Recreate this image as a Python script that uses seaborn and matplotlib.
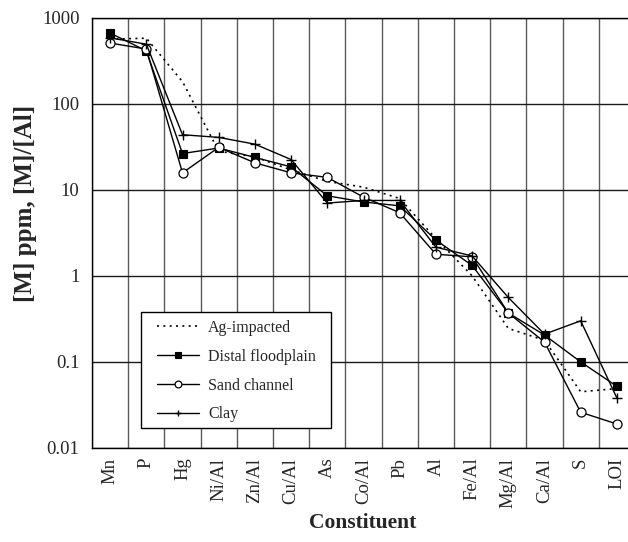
import numpy as np
import pandas as pd
import matplotlib
matplotlib.use("Agg")
import matplotlib.pyplot as plt
from matplotlib.patches import Rectangle
from matplotlib.ticker import FixedLocator, NullLocator
import seaborn as sns

# Constituents along the x axis
constituents = ["Mn", "P", "Hg", "Ni/Al", "Zn/Al", "Cu/Al", "As", "Co/Al",
                "Pb", "Al", "Fe/Al", "Mg/Al", "Ca/Al", "S", "LOI"]

# Concentrations ([M] ppm or [M]/[Al]) for each sediment type
ag_impacted = [560, 575, 180, 28, 24, 17, 12.5, 10.7, 7.9, 2.7, 1.0, 0.245, 0.178, 0.045, 0.049]
distal_floodplain = [660, 410, 26.3, 30.5, 23.7, 18.4, 8.5, 7.2, 6.5, 2.6, 1.32, 0.37, 0.205, 0.10, 0.052]
sand_channel = [505, 430, 15.7, 31, 20.5, 15.7, 13.9, 8.2, 5.4, 1.78, 1.66, 0.37, 0.17, 0.026, 0.019]
clay = [580, 490, 43.5, 40.5, 33.8, 22.4, 7.0, 7.5, 7.5, 2.15, 1.7, 0.56, 0.21, 0.30, 0.038]

y_ticks = [0.01, 0.1, 1, 10, 100, 1000]
y_tick_labels = ["0.01", "0.1", "1", "10", "100", "1000"]

sns.set_style("white")
plt.rcParams["font.family"] = ["Liberation Serif", "DejaVu Serif"]

fig = plt.figure(figsize=(6.28, 5.42), dpi=100)
ax = fig.add_axes([92 / 628, 1 - 448 / 542, 543 / 628, 430.5 / 542])

pos = np.arange(len(constituents))
series = [
    ("Ag-impacted", ag_impacted,
     dict(linestyle=(0, (1.2, 2.6)), linewidth=1.2, marker=None)),
    ("Distal floodplain", distal_floodplain,
     dict(linestyle="-", linewidth=1.0, marker="s", markersize=6,
          markerfacecolor="black", markeredgecolor="black", markeredgewidth=0.8)),
    ("Sand channel", sand_channel,
     dict(linestyle="-", linewidth=1.0, marker="o", markersize=6.5,
          markerfacecolor="white", markeredgecolor="black", markeredgewidth=0.9)),
    ("Clay", clay,
     dict(linestyle="-", linewidth=1.0, marker="+", markersize=6.5,
          markeredgecolor="black", markeredgewidth=1.0)),
]

for name, values, style in series:
    df = pd.DataFrame({"pos": pos, "value": values})
    sns.lineplot(data=df, x="pos", y="value", ax=ax, color="black",
                 sort=False, errorbar=None, label=name, zorder=3, **style)

ax.set_yscale("log")
ax.set_ylim(0.01, 1000)
ax.set_xlim(-0.5, len(constituents) - 0.5)

ax.yaxis.set_major_locator(FixedLocator(y_ticks))
ax.yaxis.set_minor_locator(NullLocator())
ax.set_yticklabels(y_tick_labels)

# Category labels at centres, tick marks and grid at category boundaries
ax.set_xticks(pos)
ax.set_xticklabels(constituents, rotation=90, ha="center", va="top")
ax.set_xticks(np.arange(-0.5, len(constituents)), minor=True)
ax.tick_params(axis="x", which="major", length=0, pad=7, labelsize=13.5)
ax.tick_params(axis="x", which="minor", direction="inout", length=8, width=1, color="black")
ax.tick_params(axis="y", which="major", direction="inout", length=8, width=1,
               color="black", pad=5, labelsize=13.5)

ax.grid(False)
ax.grid(True, axis="x", which="minor", color="#5a5a5a", linewidth=1.0, zorder=1)
ax.grid(True, axis="y", which="major", color="#1a1a1a", linewidth=1.0, zorder=1)
ax.set_axisbelow(True)

for side in ["left", "bottom", "top", "right"]:
    ax.spines[side].set_color("black")
    ax.spines[side].set_linewidth(1.0)

ax.set_xlabel("Constituent", fontsize=15.5, fontweight="bold")
ax.xaxis.set_label_coords(0.499, -0.152)
ax.set_ylabel("[M] ppm, [M]/[Al]", fontsize=18, fontweight="bold")
ax.yaxis.set_label_coords(-0.102, 0.569)

# Legend box drawn as a patch, legend entries placed inside it
legend_box = Rectangle((0.0902, 0.0465), 0.350, 0.2694, transform=ax.transAxes,
                       facecolor="white", edgecolor="black", linewidth=1.0, zorder=4)
ax.add_patch(legend_box)
leg = ax.legend(loc="upper left", bbox_to_anchor=(0.105, 0.316), fontsize=11.5,
                frameon=False, handlelength=2.6, handletextpad=0.6,
                labelspacing=0.8, borderpad=0.5, markerscale=0.75, borderaxespad=0)
leg.set_zorder(5)

fig.savefig("out.png", dpi=100)
